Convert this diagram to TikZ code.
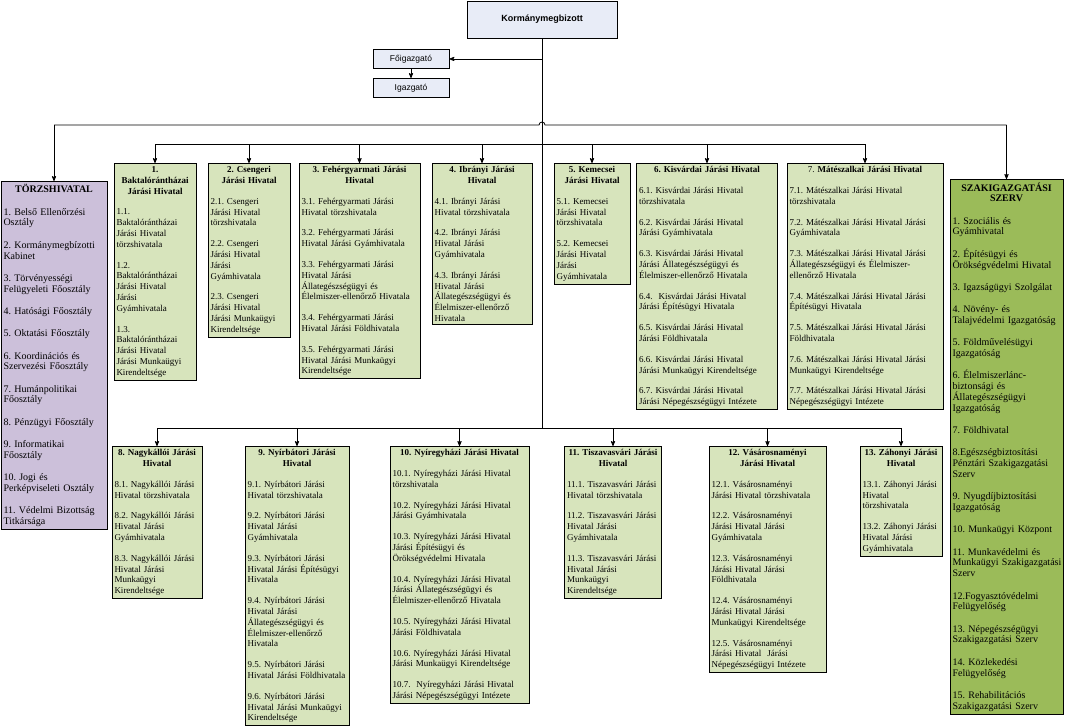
\documentclass[tikz,border=0pt]{standalone}
\usepackage{fontspec}
\setmainfont{Liberation Serif}
\newfontfamily\arialfont{Liberation Sans}
\frenchspacing
\hyphenpenalty=10000
\exhyphenpenalty=10000
\usetikzlibrary{arrows}
\tikzset{>=stealth'}
\definecolor{fejkek}{RGB}{232,236,247}
\definecolor{jarzold}{RGB}{215,228,188}
\definecolor{szakzold}{RGB}{155,187,89}
\definecolor{torzslila}{RGB}{204,192,218}
\tikzset{
  vezeto/.style={draw=black,line width=0.9pt,fill=fejkek,anchor=north,inner sep=0pt,font=\arialfont\fontsize{8.5}{10}\selectfont},
  hivatal/.style={draw=black,line width=1pt,fill=jarzold,anchor=north,align=left,inner xsep=2.5pt,inner ysep=3pt,
    font=\fontsize{9}{10.8}\selectfont,execute at begin node={\setlength{\parskip}{10pt}}},
  fohivatal/.style={hivatal,font=\fontsize{10}{10.8}\selectfont,execute at begin node={\setlength{\parskip}{11.5pt}}},
  vonal/.style={line width=0.8pt}
}

\begin{document}
\begin{tikzpicture}[x=1pt,y=-1pt]
\def\fsin {125} % y of the upper bus
\def\ksin {144} % y of the bus of districts 1-7
\def\asin {428} % y of the bus of districts 8-13
\useasboundingbox (0,0) rectangle (1065,726);
% leaders:
 \node[vezeto,minimum width=150pt,minimum height=37pt,font=\arialfont\bfseries\fontsize{9}{10}\selectfont] (korm) at (542,0.5) {Kormánymegbizott};
 \node[vezeto,minimum width=76pt,minimum height=19pt] (foig) at (411,49) {Főigazgató};
 \node[vezeto,minimum width=76pt,minimum height=19pt] (igaz) at (411,78) {Igazgató};
% side offices:
 \node[fohivatal,fill=torzslila,text width=101pt] (torzs) at (54,181) {{\centering\bfseries TÖRZSHIVATAL\par}
  1. Belső Ellenőrzési\\Osztály\par
  2. Kormánymegbízotti\\Kabinet\par
  3. Törvényességi\\Felügyeleti Főosztály\par
  4. Hatósági Főosztály\par
  5. Oktatási Főosztály\par
  6. Koordinációs és\\Szervezési Főosztály\par
  7. Humánpolitikai\\Főosztály\par
  8. Pénzügyi Főosztály\par
  9. Informatikai\\Főosztály\par
  10. Jogi és\\Perképviseleti Osztály\par
  11. Védelmi Bizottság\\Titkársága};
 \node[fohivatal,fill=szakzold,text width=108pt] (szak) at (1006.5,179) {{\centering\bfseries SZAKIGAZGATÁSI\\SZERV\par}
  1. Szociális és\\Gyámhivatal\par
  2. Építésügyi és\\Örökségvédelmi Hivatal\par
  3. Igazságügyi Szolgálat\par
  4. Növény- és\\\mbox{Talajvédelmi Igazgatóság}\par
  5. Földművelésügyi\\Igazgatóság\par
  6. Élelmiszerlánc-\\biztonsági és\\Állategészségügyi\\Igazgatóság\par
  7. Földhivatal\par
  8.Egészségbiztosítási\\Pénztári Szakigazgatási\\Szerv\par
  9. Nyugdíjbiztosítási\\Igazgatóság\par
  10. Munkaügyi Központ\par
  11. Munkavédelmi és\\\mbox{Munkaügyi Szakigazgatási}\\Szerv\par
  12.Fogyasztóvédelmi\\Felügyelőség\par
  13. Népegészségügyi\\Szakigazgatási Szerv\par
  14. Közlekedési\\Felügyelőség\par
  15. Rehabilitációs\\Szakigazgatási Szerv};
% districts 1-7:
 \node[hivatal,text width=77pt] (b1) at (155,163) {{\centering\bfseries 1.\\Baktalórántházai\\Járási Hivatal\par}
  1.1.\\Baktalórántházai\\Járási Hivatal\\törzshivatala\par
  1.2.\\Baktalórántházai\\Járási Hivatal\\Járási\\Gyámhivatala\par
  1.3.\\Baktalórántházai\\Járási Hivatal\\Járási Munkaügyi\\Kirendeltsége};
 \node[hivatal,text width=77pt] (b2) at (249,163) {{\centering\bfseries 2. Csengeri\\Járási Hivatal\par}
  2.1. Csengeri\\Járási Hivatal\\törzshivatala\par
  2.2. Csengeri\\Járási Hivatal\\Járási\\Gyámhivatala\par
  2.3. Csengeri\\Járási Hivatal\\Járási Munkaügyi\\Kirendeltsége};
 \node[hivatal,text width=116pt] (b3) at (359.5,163) {{\centering\bfseries 3. Fehérgyarmati Járási\\Hivatal\par}
  3.1. Fehérgyarmati Járási\\Hivatal törzshivatala\par
  3.2. Fehérgyarmati Járási\\Hivatal Járási Gyámhivatala\par
  3.3. Fehérgyarmati Járási\\Hivatal Járási\\Állategészségügyi és\\Élelmiszer-ellenőrző Hivatala\par
  3.4. Fehérgyarmati Járási\\Hivatal Járási Földhivatala\par
  3.5. Fehérgyarmati Járási\\Hivatal Járási Munkaügyi\\Kirendeltsége};
 \node[hivatal,text width=95pt] (b4) at (482,163) {{\centering\bfseries 4. Ibrányi Járási\\Hivatal\par}
  4.1. Ibrányi Járási\\Hivatal törzshivatala\par
  4.2. Ibrányi Járási\\Hivatal Járási\\Gyámhivatala\par
  4.3. Ibrányi Járási\\Hivatal Járási\\Állategészségügyi és\\Élelmiszer-ellenőrző\\Hivatala};
 \node[hivatal,text width=71pt] (b5) at (592,163) {{\centering\bfseries 5. Kemecsei\\Járási Hivatal\par}
  5.1. Kemecsei\\Járási Hivatal\\törzshivatala\par
  5.2. Kemecsei\\Járási Hivatal\\Járási\\Gyámhivatala};
 \node[hivatal,text width=136pt] (b6) at (707,163) {{\centering\bfseries 6. Kisvárdai Járási Hivatal\par}
  6.1. Kisvárdai Járási Hivatal\\törzshivatala\par
  6.2. Kisvárdai Járási Hivatal\\Járási Gyámhivatala\par
  6.3. Kisvárdai Járási Hivatal\\Járási Állategészségügyi és\\Élelmiszer-ellenőrző Hivatala\par
  6.4.~ Kisvárdai Járási Hivatal\\Járási Építésügyi Hivatala\par
  6.5. Kisvárdai Járási Hivatal\\Járási Földhivatala\par
  6.6. Kisvárdai Járási Hivatal\\Járási Munkaügyi Kirendeltsége\par
  6.7. Kisvárdai Járási Hivatal\\Járási Népegészségügyi Intézete};
 \node[hivatal,text width=151pt] (b7) at (865,163) {{\centering 7. \textbf{Mátészalkai Járási Hivatal}\par}
  7.1. Mátészalkai Járási Hivatal\\törzshivatala\par
  7.2. Mátészalkai Járási Hivatal Járási\\Gyámhivatala\par
  7.3. Mátészalkai Járási Hivatal Járási\\Állategészségügyi és Élelmiszer-\\ellenőrző Hivatala\par
  7.4. Mátészalkai Járási Hivatal Járási\\Építésügyi Hivatala\par
  7.5. Mátészalkai Járási Hivatal Járási\\Földhivatala\par
  7.6. Mátészalkai Járási Hivatal Járási\\Munkaügyi Kirendeltsége\par
  7.7. Mátészalkai Járási Hivatal Járási\\Népegészségügyi Intézete};
% districts 8-13:
 \node[hivatal,text width=85pt] (b8) at (157,446) {{\centering\bfseries 8. Nagykállói Járási\\Hivatal\par}
  8.1. Nagykállói Járási\\Hivatal törzshivatala\par
  8.2. Nagykállói Járási\\Hivatal Járási\\Gyámhivatala\par
  8.3. Nagykállói Járási\\Hivatal Járási\\Munkaügyi\\Kirendeltsége};
 \node[hivatal,text width=99pt] (b9) at (297,446) {{\centering\bfseries 9. Nyírbátori Járási\\Hivatal\par}
  9.1. Nyírbátori Járási\\Hivatal törzshivatala\par
  9.2. Nyírbátori Járási\\Hivatal Járási\\Gyámhivatala\par
  9.3. Nyírbátori Járási\\Hivatal Járási Építésügyi\\Hivatala\par
  9.4. Nyírbátori Járási\\Hivatal Járási\\Állategészségügyi és\\Élelmiszer-ellenőrző\\Hivatala\par
  9.5. Nyírbátori Járási\\Hivatal Járási Földhivatala\par
  9.6. Nyírbátori Járási\\Hivatal Járási Munkaügyi\\Kirendeltsége};
 \node[hivatal,text width=134pt] (b10) at (459.5,446) {{\centering\bfseries 10. Nyíregyházi Járási Hivatal\par}
  10.1. Nyíregyházi Járási Hivatal\\törzshivatala\par
  10.2. Nyíregyházi Járási Hivatal\\Járási Gyámhivatala\par
  10.3. Nyíregyházi Járási Hivatal\\Járási Építésügyi és\\Örökségvédelmi Hivatala\par
  10.4. Nyíregyházi Járási Hivatal\\Járási Állategészségügyi és\\Élelmiszer-ellenőrző Hivatala\par
  10.5. Nyíregyházi Járási Hivatal\\Járási Földhivatala\par
  10.6. Nyíregyházi Járási Hivatal\\Járási Munkaügyi Kirendeltsége\par
  10.7.~ Nyíregyházi Járási Hivatal\\Járási Népegészségügyi Intézete};
 \node[hivatal,text width=92pt] (b11) at (613,446) {{\centering\bfseries 11. Tiszavasvári Járási\\Hivatal\par}
  \mbox{11.1. Tiszavasvári Járási}\\Hivatal törzshivatala\par
  \mbox{11.2. Tiszavasvári Járási}\\Hivatal Járási\\Gyámhivatala\par
  \mbox{11.3. Tiszavasvári Járási}\\Hivatal Járási\\Munkaügyi\\Kirendeltsége};
 \node[hivatal,text width=112pt] (b12) at (767.5,446) {{\centering\bfseries 12. Vásárosnaményi\\Járási Hivatal\par}
  12.1. Vásárosnaményi\\Járási Hivatal törzshivatala\par
  12.2. Vásárosnaményi\\Járási Hivatal Járási\\Gyámhivatala\par
  12.3. Vásárosnaményi\\Járási Hivatal Járási\\Földhivatala\par
  12.4. Vásárosnaményi\\Járási Hivatal Járási\\Munkaügyi Kirendeltsége\par
  12.5. Vásárosnaményi\\Járási Hivatal~ Járási\\Népegészségügyi Intézete};
 \node[hivatal,text width=77pt] (b13) at (901,446) {{\centering\bfseries 13. Záhonyi Járási\\Hivatal\par}
  13.1. Záhonyi Járási\\Hivatal\\törzshivatala\par
  13.2. Záhonyi Járási\\Hivatal Járási\\Gyámhivatala};
% buses:
 \coordinate (fsin) at (0,\fsin);
 \coordinate (ksin) at (0,\ksin);
 \coordinate (asin) at (0,\asin);
 \path (korm.south |- fsin) coordinate (kereszt);
 \draw[vonal] (korm.south) -- (korm.south |- asin);
 \draw[vonal,->] (korm.south |- foig.east) -- (foig.east);
 \draw[vonal,->] (foig.south) -- (igaz.north);
 \draw[vonal] (torzs.north |- fsin) -- ([xshift=-3pt]kereszt) arc[start angle=180,end angle=0,radius=3pt] -- (szak.north |- fsin);
 \draw[vonal,->] (torzs.north |- fsin) -- (torzs.north);
 \draw[vonal,->] (szak.north |- fsin) -- (szak.north);
 \draw[vonal] (b1.north |- ksin) -- (b7.north |- ksin);
 \foreach \n in {b1,b2,b3,b4,b5,b6,b7}
  \draw[vonal,->] (\n.north |- ksin) -- (\n.north);
 \draw[vonal] (b8.north |- asin) -- (b13.north |- asin);
 \foreach \n in {b8,b9,b10,b11,b12,b13}
  \draw[vonal,->] (\n.north |- asin) -- (\n.north);
\end{tikzpicture}
\end{document}
